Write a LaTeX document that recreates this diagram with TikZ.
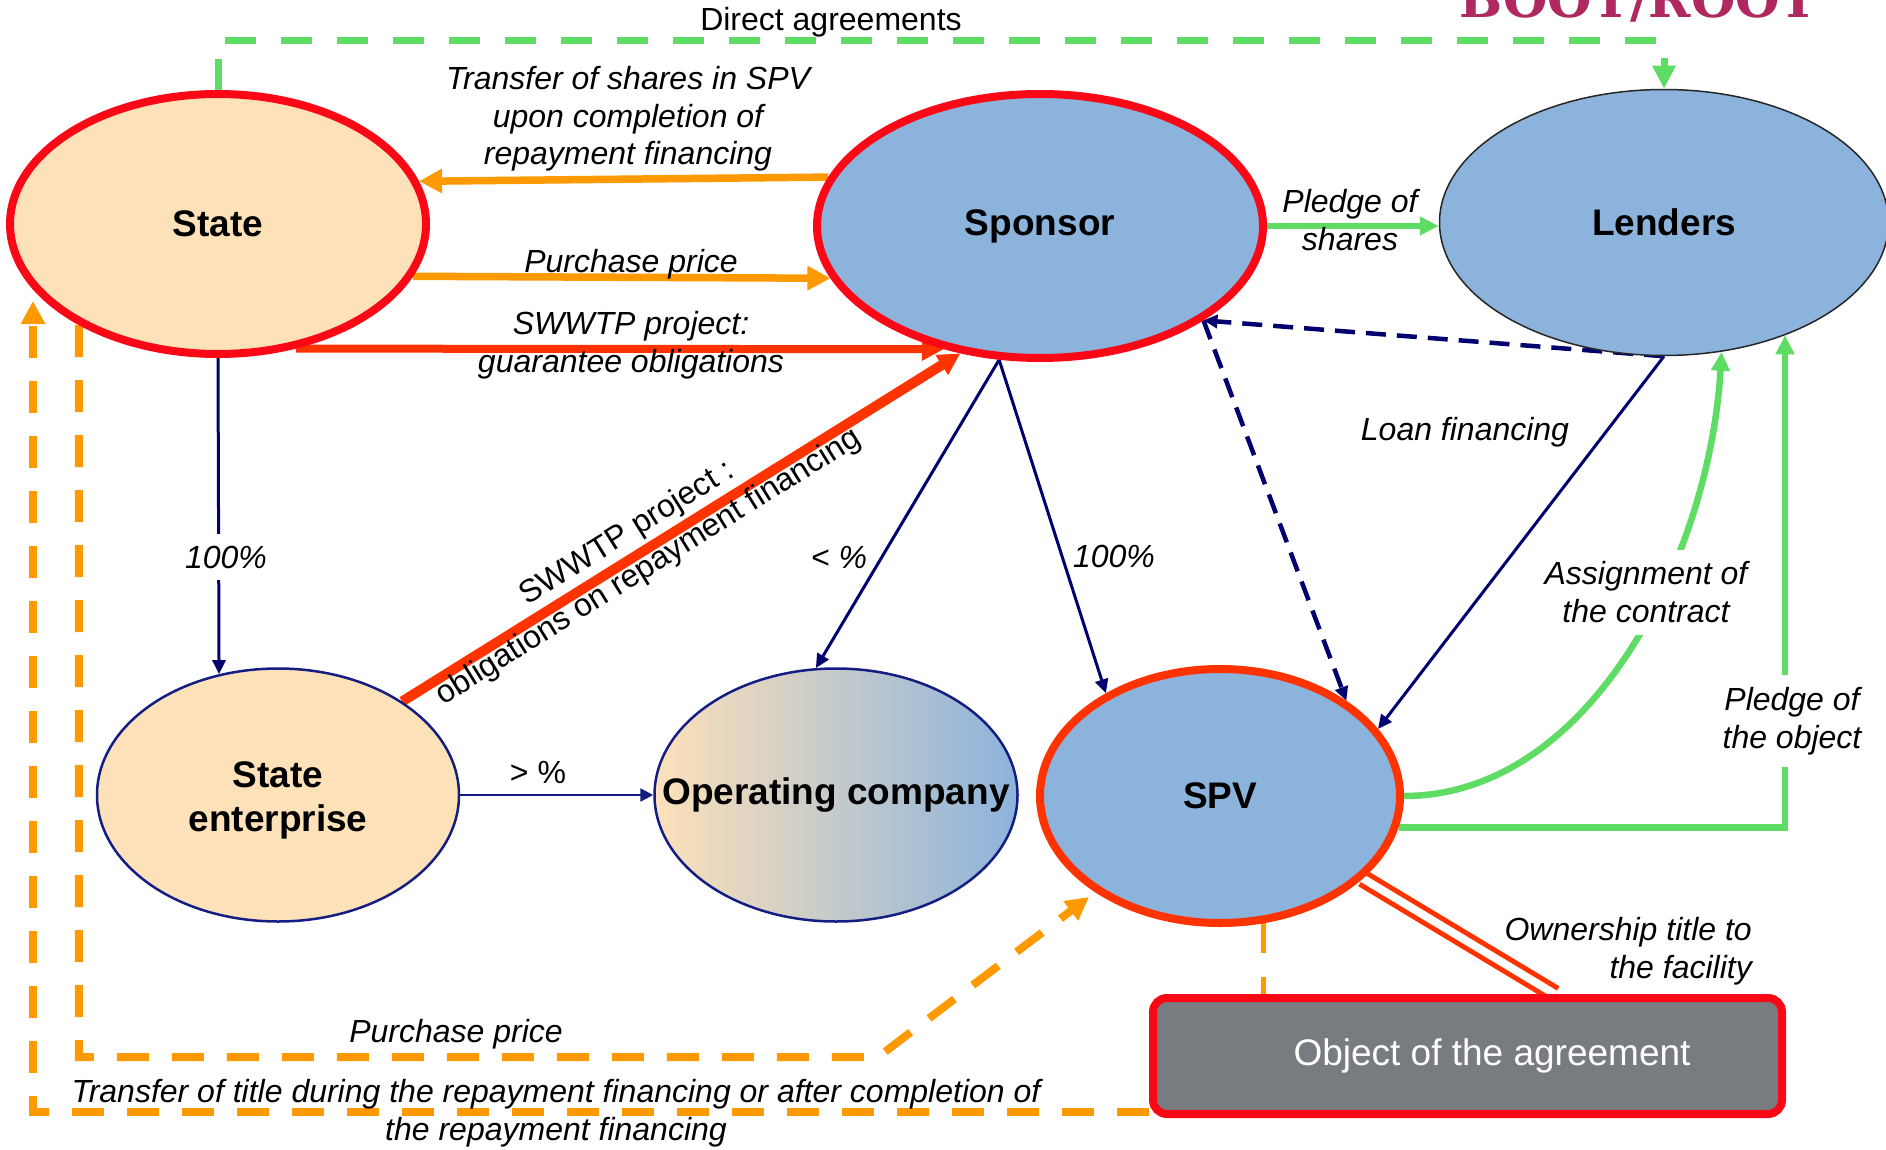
\documentclass[tikz,border=0pt]{standalone}
\usepackage{fontspec}
\setmainfont{Liberation Sans}
\newfontfamily\slabfont{DejaVu Serif}
\usetikzlibrary{shapes.geometric,arrows.meta,calc,backgrounds}

\definecolor{stateFill}{RGB}{253,225,185}
\definecolor{blueFill}{RGB}{140,179,220}
\definecolor{borderRed}{RGB}{250,8,22}
\definecolor{flowRed}{RGB}{255,51,0}
\definecolor{flowOrange}{RGB}{255,153,0}
\definecolor{flowGreen}{RGB}{95,220,100}
\definecolor{navy}{RGB}{0,0,110}
\definecolor{lineNavy}{RGB}{20,30,130}
\definecolor{boxGray}{RGB}{120,124,128}
\definecolor{titleMagenta}{RGB}{176,40,96}

\begin{document}
\begin{tikzpicture}[x=1pt,y=-1pt,
  entity/.style={ellipse, inner sep=0pt, font=\fontsize{37}{44.5}\selectfont\bfseries},
  entText/.style={inner sep=0pt, align=center, font=\fontsize{37}{44.5}\selectfont\bfseries},
  stateEll/.style={entity, fill=stateFill, draw=borderRed, line width=8pt},
  blueEll/.style={entity, fill=blueFill, draw=borderRed, line width=8pt},
  lenderEll/.style={entity, fill=blueFill, draw=black!85, line width=1.5pt},
  thinEll/.style={entity, draw=lineNavy, line width=2.5pt},
  lbl/.style={inner sep=0pt, align=center, font=\fontsize{32}{37.5}\selectfont\itshape},
  lblUp/.style={inner sep=0pt, align=center, font=\fontsize{32}{37.5}\selectfont},
  lblbg/.style={lbl, fill=white, inner xsep=3pt, inner ysep=12pt},
  orangeArrow/.style={draw=flowOrange, line width=7.5pt, -{Triangle[length=23pt,width=23pt]}},
  redArrow/.style={draw=flowRed, line width=8pt, -{Triangle[length=22pt,width=22pt]}},
  navyArrow/.style={draw=navy, line width=3pt, -{Triangle[length=14pt,width=13pt]}},
  navyDashed/.style={navyArrow, line width=4.5pt, dash pattern=on 20pt off 11pt},
  seArrow/.style={draw=lineNavy, line width=2.5pt, -{Triangle[length=13pt,width=13pt]}},
  greenArrow/.style={draw=flowGreen, line width=6.5pt, -{Triangle[length=19pt,width=18pt]}},
  greenDashed/.style={draw=flowGreen, line width=7pt, dash pattern=on 31pt off 25pt, -{Triangle[length=23pt,width=22pt]}},
  orangeDashed/.style={draw=flowOrange, line width=8pt, dash pattern=on 32pt off 23pt, -{Triangle[length=23pt,width=23pt]}},
  ownership/.style={draw=flowRed, line width=5pt, double=white, double distance=8pt}
]
\useasboundingbox (0,0) rectangle (1886,1150);

% parties
\node[stateEll, minimum width=416pt, minimum height=260pt] (State) at (218,224) {State};
\node[blueEll, minimum width=446pt, minimum height=264pt] (Sponsor) at (1040,226) {Sponsor};
\node[lenderEll, minimum width=449pt, minimum height=266pt] (Lenders) at (1664,222.5) {Lenders};
\node[thinEll, fill=stateFill, minimum width=362pt, minimum height=253pt] (SE) at (278,795) {};
\node[entText] (SEText) at (278,800.5) {State\\enterprise};
\node[thinEll, left color=stateFill, right color=blueFill, minimum width=363pt, minimum height=253pt] (OC) at (836,795) {\makebox[0pt]{Operating company}};
\node[blueEll, draw=flowRed, minimum width=360pt, minimum height=254pt] (SPV) at (1220,796) {SPV};
\node[draw=borderRed, fill=boxGray, line width=8pt, rounded corners=14pt,
      minimum width=629pt, minimum height=116pt, inner sep=0pt] (Obj) at (1467.5,1056) {};
\node[inner sep=0pt, text=white, font=\fontsize{37}{44}\selectfont] (ObjText) at (1492,1056) {Object of the agreement};

% heading
\node[anchor=base west, inner sep=0pt, text=titleMagenta, font=\fontsize{51}{60}\slabfont\bfseries] (Title) at (1459,18) {BOOT/ROOT};

% labels
\node[lblUp, anchor=base] (LDirect) at (831,31) {Direct agreements};
\node[lbl] (LTransfer) at (628,119) {Transfer of shares in SPV\\upon completion of\\repayment financing};
\node[lbl] (LPurchase) at (631,264) {Purchase price};
\node[lbl] (LGuarantee) at (631,345) {SWWTP project:\\guarantee obligations};
\node[lblUp, rotate=32, font=\fontsize{32}{40}\selectfont] (LObligations) at (638,550.5) {SWWTP project :\\obligations on repayment financing};
\node[lbl] (LPledgeShares) at (1350,220) {Pledge of\\shares};
\node[lbl] (LLoan) at (1465,432) {Loan financing};
\node[lblbg] (LAssign) at (1646,592) {Assignment of\\the contract};
\node[lblbg] (LPledgeObj) at (1792,721) {Pledge of\\the object};
\node[lblbg] (LHundredA) at (226,557) {100\%};
\node[lbl] (LLess) at (839,557) {< \%};
\node[lbl] (LHundredB) at (1114,556) {100\%};
\node[lblUp] (LMore) at (538,772) {> \%};
\node[lbl, align=right, anchor=east] (LOwner) at (1752,951) {Ownership title to\\the facility};
\node[lbl] (LPurchaseLow) at (456,1034) {Purchase price};
\node[lbl] (LTitle) at (556,1113) {Transfer of title during the repayment financing or after completion of\\the repayment financing};

% flows
\coordinate (ppBend) at (878,1057);
\coordinate (ppTip) at (1089,897);
\coordinate (ttCorner) at (33,1112);
\coordinate (ttTip) at (33,301);

\begin{scope}[on background layer]
  \draw[greenDashed] (State.north) -- ++(0,-49) -| (Lenders.north);
  \draw[orangeArrow] (Sponsor.167.9) -- (State.12.4);
  \draw[orangeArrow] (State.-15.2) -- (Sponsor.-166.4);
  \draw[redArrow] (State.-58.6) -- (Sponsor.-128.2);
  \draw[redArrow, line width=10pt] (SE.37.2) -- (Sponsor.-122.8);
  \draw[navyArrow] (State.south) -- (SE.116);
  \draw[navyArrow] (Sponsor.-107.2) -- (OC.99.5);
  \draw[navyArrow] (Sponsor.-107.2) -- (SPV.138.1);
  \draw[navyDashed] (Lenders.south) -- (Sponsor.-30.5);
  \draw[navyDashed] (Sponsor.-30.5) -- (SPV.37.7);
  \draw[navyArrow] (Lenders.south) -- (SPV.23.4);
  \draw[greenArrow] (SPV.east) .. controls +(186,0) and +(-12,206) .. (Lenders.-66.3);
  \draw[greenArrow] (SPV.-10.2) -| (Lenders.-43.4);
  \draw[greenArrow] (Sponsor.east) -- (Sponsor.east -| Lenders.west);
  \draw[seArrow] (SE.east) -- (OC.west);
  \draw[ownership] (SPV.-30.1) -- ($(Obj.north west)!0.637!(Obj.north east)$);
  \draw[flowOrange, line width=5pt, dash pattern=on 30pt off 24pt] (SPV.-71.35) -- (SPV.-71.35 |- Obj.north);
  \draw[orangeDashed] (State.216) |- (ppBend) -- (ppTip);
  \draw[orangeDashed] ([yshift=6pt]Obj.south west) -- (ttCorner) -- (ttTip);
\end{scope}
\end{tikzpicture}
\end{document}
